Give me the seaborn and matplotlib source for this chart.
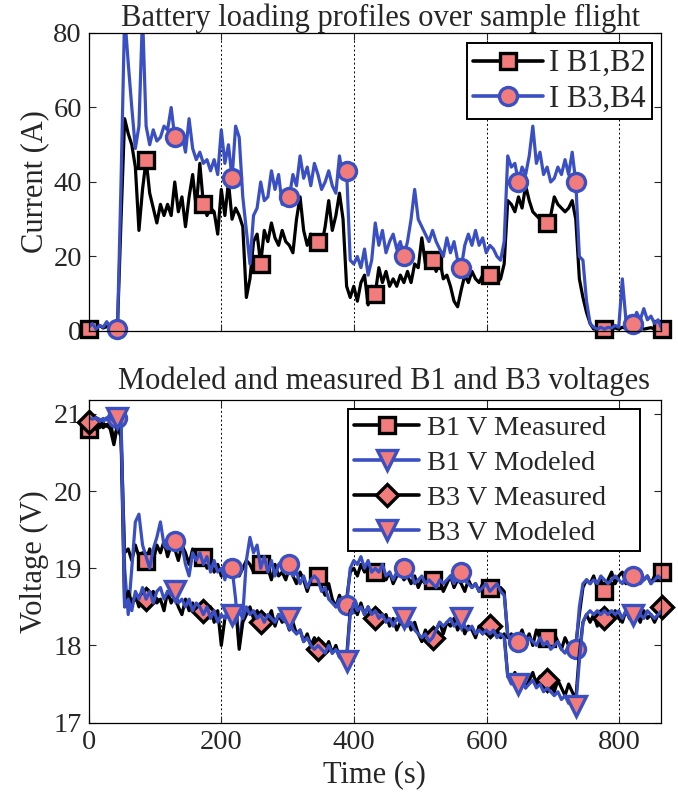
import numpy as np
import matplotlib
matplotlib.use("Agg")
import matplotlib.pyplot as plt
from matplotlib.lines import Line2D
import seaborn as sns

# sample spacing of the logged flight data (s)
dt = 5.4

# battery currents (A)
i_b12 = [0.5, 1, 0.5, 1.5, 0.8, 1.2, 0.6, 1.5, 1, 30,
         57, 53, 50, 44, 27, 38, 46, 37, 33, 29,
         34, 31, 34, 31, 40, 32, 36, 28, 36, 42,
         33, 45, 34, 31, 33, 32, 26, 38, 31, 40,
         30, 33, 31, 28, 9, 14, 24, 26, 18, 27,
         24, 29, 25, 23, 27, 24, 23, 21, 30, 36,
         27, 23, 26, 24, 24, 23, 28, 35, 27, 31,
         37, 30, 12, 9, 12, 8, 13, 15, 7, 12,
         10, 17, 13, 16, 12, 14, 12, 15, 13, 16,
         13, 18, 17, 25, 18, 21, 19, 16, 19, 14,
         15, 12, 8, 6.5, 11, 15, 13, 16, 14, 13,
         15, 14, 15, 16, 13, 14, 18, 35, 34, 32,
         36, 33, 39, 35, 32, 31, 30, 28, 29, 31,
         36, 34, 33, 32, 33, 35, 30, 14, 9, 5,
         2, 0.5, 0.8, 0.5, 0.5, 1, 0.6, 0.8, 0.5, 1,
         0.7, 0.5, 0.8, 0.6, 1, 0.5, 0.7, 0.9, 0.5, 0.6,
         0.5]
i_b34 = [1, 2, 0.5, 1.5, 1, 2.5, 1, 1.5, 0.5, 40,
         85, 72, 60, 49, 55, 85, 55, 50, 54, 51,
         52, 55, 54, 60, 52, 50, 53, 48, 57, 49,
         46, 48, 45, 46, 43, 46, 42, 54, 45, 50,
         41, 55, 52, 36, 27, 18, 31, 33, 40, 35,
         36, 43, 38, 42, 34, 37, 36, 42, 39, 47,
         41, 44, 39, 45, 42, 38, 40, 43, 39, 37,
         47, 41, 43, 19, 18, 20, 17, 22, 15, 19,
         29, 23, 27, 21, 24, 26, 22, 24, 20, 24,
         30, 38, 30, 28, 26, 24, 27, 24, 22, 20,
         25, 21, 24, 19, 17, 23, 26, 23, 27, 23,
         25, 21, 23, 22, 20, 19, 24, 47, 44, 45,
         40, 44, 42, 47, 55, 45, 48, 42, 44, 40,
         41, 44, 42, 46, 42, 48, 40, 20, 19, 8,
         2, 1, 0.5, 1, 0.5, 1, 0.8, 1.5, 1, 14,
         3, 4, 2, 5, 3, 6, 3, 4, 2, 3,
         0.5]

# battery voltages (V)
v_b1_meas = [20.8, 20.85, 20.9, 20.82, 20.88, 20.84, 20.9, 20.65, 20.85, 20.7,
             19.2, 19.25, 19.1, 19.3, 19.15, 19.2, 19.1, 19.25, 19.1, 19.3,
             19.2, 19.35, 19.15, 19.3, 19.25, 19.1, 19.3, 19.2, 19.05, 19.25,
             19.1, 19.2, 19.15, 19.0, 19.1, 18.95, 19.05, 18.9, 19.0, 19.1,
             18.95, 19.05, 18.9, 19.0, 19.1, 19.05, 18.95, 19.1, 19.05, 18.95,
             19.0, 18.85, 19.05, 18.9, 18.95, 18.85, 19.0, 18.9, 18.8, 18.95,
             18.85, 18.7, 18.85, 18.95, 18.9, 18.75, 18.65, 18.8, 18.6, 18.5,
             18.65, 18.55, 18.6, 18.95, 19.0, 18.9, 19.05, 18.95, 19.0, 18.9,
             18.95, 18.9, 19.0, 18.85, 18.95, 18.8, 18.9, 18.95, 18.85, 18.9,
             18.8, 18.9, 18.75, 18.85, 18.8, 18.9, 18.85, 18.75, 18.85, 18.7,
             18.8, 18.9, 18.75, 18.85, 18.8, 18.7, 18.85, 18.75, 18.8, 18.7,
             18.8, 18.7, 18.75, 18.8, 18.7, 18.75, 18.7, 18.1, 18.15, 18.05,
             18.1, 18.2, 18.05, 18.15, 18.0, 18.2, 18.1, 18.05, 18.1, 18.0,
             18.15, 18.05, 17.95, 18.1, 18.0, 17.9, 18.0, 18.4, 18.75, 18.85,
             18.8, 18.9, 18.75, 18.85, 18.7, 18.85, 18.95, 18.8, 18.9, 18.95,
             18.8, 18.9, 18.85, 18.8, 18.95, 18.85, 18.9, 18.8, 18.9, 18.85,
             18.95]
v_b1_model = [20.95, 20.92, 20.95, 20.93, 20.9, 20.95, 20.92, 20.9, 20.95, 20.9,
              19.0, 18.4, 19.0, 19.6, 19.7, 19.3, 19.15, 19.0, 19.25, 19.4,
              19.6, 19.3, 19.25, 19.4, 19.35, 19.4, 19.3, 19.05, 18.9, 19.2,
              19.1, 19.2, 19.05, 19.15, 18.95, 19.1, 18.95, 19.0, 18.85, 19.05,
              19.0, 18.6, 18.0, 18.4, 19.1, 19.4, 19.2, 19.3, 19.0, 19.15,
              18.95, 19.1, 18.9, 19.05, 19.1, 19.0, 19.05, 18.9, 18.95, 18.8,
              18.9, 18.75, 18.85, 18.9, 18.85, 18.7, 18.75, 18.6, 18.55, 18.5,
              18.6, 18.55, 18.52, 19.0, 19.1, 19.05, 19.15, 19.0, 19.1, 18.95,
              19.0, 18.95, 19.05, 18.9, 18.95, 18.85, 18.95, 19.0, 19.0, 18.9,
              18.95, 18.8, 18.85, 18.9, 18.8, 18.85, 18.8, 18.75, 18.85, 18.8,
              18.85, 18.9, 18.8, 18.9, 18.95, 18.85, 18.8, 18.75, 18.8, 18.7,
              18.75, 18.8, 18.7, 18.75, 18.8, 18.7, 18.65, 18.15, 18.05, 18.0,
              18.05, 18.1, 18.0, 18.1, 18.05, 18.0, 18.1, 18.0, 18.05, 17.95,
              18.0, 18.05, 17.95, 17.9, 18.0, 17.9, 17.95, 18.5, 18.8, 18.85,
              18.8, 18.85, 18.8, 18.9, 18.85, 18.8, 18.85, 18.9, 18.85, 18.8,
              18.9, 18.85, 18.9, 18.85, 18.8, 18.85, 18.9, 18.8, 18.85, 18.9,
              18.85]
v_b3_meas = [20.9, 20.85, 20.8, 20.88, 20.82, 20.86, 20.8, 20.6, 20.85, 20.7,
             18.5, 18.7, 18.55, 18.65, 18.5, 18.7, 18.6, 18.5, 18.7, 18.55,
             18.6, 18.45, 18.7, 18.55, 18.65, 18.5, 18.4, 18.6, 18.45, 18.55,
             18.4, 18.5, 18.45, 18.35, 18.5, 18.3, 18.45, 18.0, 18.35, 18.45,
             18.3, 18.5, 17.95, 18.3, 18.4, 18.5, 18.35, 18.45, 18.3, 18.4,
             18.35, 18.45, 18.25, 18.4, 18.3, 18.35, 18.2, 18.3, 18.15, 18.2,
             18.05, 18.15, 18.0, 18.1, 17.95, 18.05, 17.95, 18.05, 17.9, 18.0,
             17.85, 17.9, 17.85, 18.45, 18.5, 18.4, 18.55, 18.4, 18.5, 18.35,
             18.35, 18.45, 18.3, 18.4, 18.25, 18.35, 18.2, 18.3, 18.25, 18.35,
             18.2, 18.3, 18.15, 18.05, 18.2, 18.1, 18.1, 18.2, 18.3, 18.15,
             18.3, 18.25, 18.35, 18.2, 18.3, 18.15, 18.25, 18.2, 18.1, 18.25,
             18.15, 18.3, 18.25, 18.15, 18.2, 18.1, 18.15, 17.6, 17.55, 17.65,
             17.5, 17.6, 17.45, 17.55, 17.65, 17.5, 17.6, 17.45, 17.55, 17.5,
             17.4, 17.55, 17.45, 17.35, 17.5, 17.4, 17.3, 17.9, 18.3, 18.4,
             18.3, 18.4, 18.25, 18.45, 18.35, 18.4, 18.3, 18.45, 18.35, 18.3,
             18.45, 18.35, 18.3, 18.4, 18.3, 18.45, 18.35, 18.4, 18.3, 18.4,
             18.5]
v_b3_model = [20.95, 20.93, 20.95, 20.9, 20.94, 20.92, 20.95, 20.9, 20.95, 20.9,
              18.5, 18.6, 18.45, 18.7, 18.6, 18.75, 18.6, 18.7, 18.55, 18.7,
              18.75, 18.6, 18.7, 18.65, 18.7, 18.55, 18.6, 18.5, 18.6, 18.45,
              18.55, 18.5, 18.4, 18.5, 18.35, 18.45, 18.3, 18.4, 18.35, 18.5,
              18.4, 18.3, 18.45, 18.35, 18.5, 18.4, 18.45, 18.35, 18.4, 18.3,
              18.4, 18.35, 18.3, 18.4, 18.35, 18.3, 18.35, 18.2, 18.15, 18.2,
              18.05, 18.1, 18.0, 17.95, 18.0, 17.95, 17.9, 18.0, 17.9, 17.95,
              17.85, 17.8, 17.8, 18.4, 18.55, 18.45, 18.5, 18.4, 18.5, 18.4,
              18.45, 18.35, 18.4, 18.3, 18.35, 18.25, 18.35, 18.3, 18.35, 18.25,
              18.3, 18.2, 18.15, 18.1, 18.15, 18.05, 18.1, 18.2, 18.3, 18.25,
              18.3, 18.35, 18.25, 18.3, 18.35, 18.25, 18.2, 18.25, 18.15, 18.2,
              18.15, 18.2, 18.15, 18.2, 18.1, 18.15, 18.1, 17.6, 17.5, 17.55,
              17.5, 17.55, 17.45, 17.5, 17.55, 17.45, 17.5, 17.4, 17.45, 17.4,
              17.35, 17.4, 17.3, 17.35, 17.25, 17.3, 17.22, 17.8, 18.3, 18.4,
              18.45, 18.4, 18.45, 18.4, 18.45, 18.4, 18.45, 18.4, 18.45, 18.35,
              18.45, 18.4, 18.4, 18.45, 18.4, 18.35, 18.45, 18.4, 18.35, 18.4,
              18.45]

time_s = np.arange(len(i_b12)) * dt
x_ticks = [0, 200, 400, 600, 800]

BLUE = "#3a4fc2"
PINK = "#f27b7b"

sns.set_style("ticks")
plt.rcParams["font.family"] = ["Liberation Serif", "DejaVu Serif"]


def trace(ax, y, color, marker, start, ms):
    sns.lineplot(x=time_s, y=y, ax=ax, color=color, lw=2.3, errorbar=None)
    sns.lineplot(x=time_s, y=y, ax=ax, color=color, linestyle="none",
                 marker=marker, markevery=(start, 16), ms=ms,
                 markerfacecolor=PINK, markeredgecolor=color,
                 markeredgewidth=2.4, errorbar=None, clip_on=False)


def style_axes(ax):
    ax.set_xlim(0, 863)
    ax.set_xticks(x_ticks)
    ax.tick_params(direction="in", top=True, right=True, length=5,
                   width=0.8, labelsize=20.5, pad=5)
    ax.xaxis.grid(True, linestyle=(0, (2, 2.5)), color="k", lw=0.7)
    ax.yaxis.grid(False)
    ax.set_axisbelow(True)
    for sp in ax.spines.values():
        sp.set_color("k")
        sp.set_linewidth(0.9)


def handle(color, marker, ms):
    return Line2D([], [], color=color, lw=2.6, marker=marker, ms=ms,
                  mfc=PINK, mec=color, mew=2.4)


fig = plt.figure(figsize=(6.78, 7.93), dpi=100)
ax1 = fig.add_axes([0.131, 0.5826, 0.844, 0.3758])
ax2 = fig.add_axes([0.131, 0.0887, 0.844, 0.407])

# current profiles
trace(ax1, i_b12, "k", "s", 0, 12)
trace(ax1, i_b34, BLUE, "o", 8, 13)
style_axes(ax1)
ax1.set_ylim(0, 80)
ax1.set_yticks([0, 20, 40, 60, 80])
ax1.set_xticklabels([])
ax1.set_xlabel("")
ax1.set_ylabel("Current (A)", fontsize=22, labelpad=3)
ax1.set_title("Battery loading profiles over sample flight", fontsize=22, pad=5, x=0.51)

leg1 = ax1.legend([handle("k", "s", 12), handle(BLUE, "o", 13)],
                  ["I B1,B2", "I B3,B4"], loc="upper right",
                  bbox_to_anchor=(0.984, 0.966), borderaxespad=0, fontsize=22,
                  handlelength=2.3, handletextpad=0.2, labelspacing=0.2,
                  borderpad=0.2, fancybox=False, framealpha=1, edgecolor="k")
leg1.get_frame().set_linewidth(1.4)

# voltages
trace(ax2, v_b1_meas, "k", "s", 0, 12)
trace(ax2, v_b1_model, BLUE, "o", 8, 13)
trace(ax2, v_b3_meas, "k", "D", 0, 11)
trace(ax2, v_b3_model, BLUE, "v", 8, 14)
style_axes(ax2)
ax2.set_ylim(17, 21.18)
ax2.set_yticks([17, 18, 19, 20, 21])
ax2.set_xlabel("Time (s)", fontsize=22, labelpad=4)
ax2.set_ylabel("Voltage (V)", fontsize=22, labelpad=3)
ax2.set_title("Modeled and measured B1 and B3 voltages", fontsize=22, pad=8, x=0.515)

# MATLAB-style legend leaves extra room right of the labels
v_labels = ["B1 V Measured", "B1 V Modeled", "B3 V Measured", "B3 V Modeled"]
leg2 = ax2.legend([handle("k", "s", 12), handle(BLUE, "v", 14),
                   handle("k", "D", 11), handle(BLUE, "v", 14)],
                  [s + "    " for s in v_labels],
                  loc="upper right", bbox_to_anchor=(0.963, 0.972), borderaxespad=0,
                  fontsize=20.5, handlelength=2.3, handletextpad=0.25, labelspacing=0.32,
                  borderpad=0.2, fancybox=False, framealpha=1, edgecolor="k")
leg2.get_frame().set_linewidth(1.4)

fig.savefig("out.png", dpi=100)
